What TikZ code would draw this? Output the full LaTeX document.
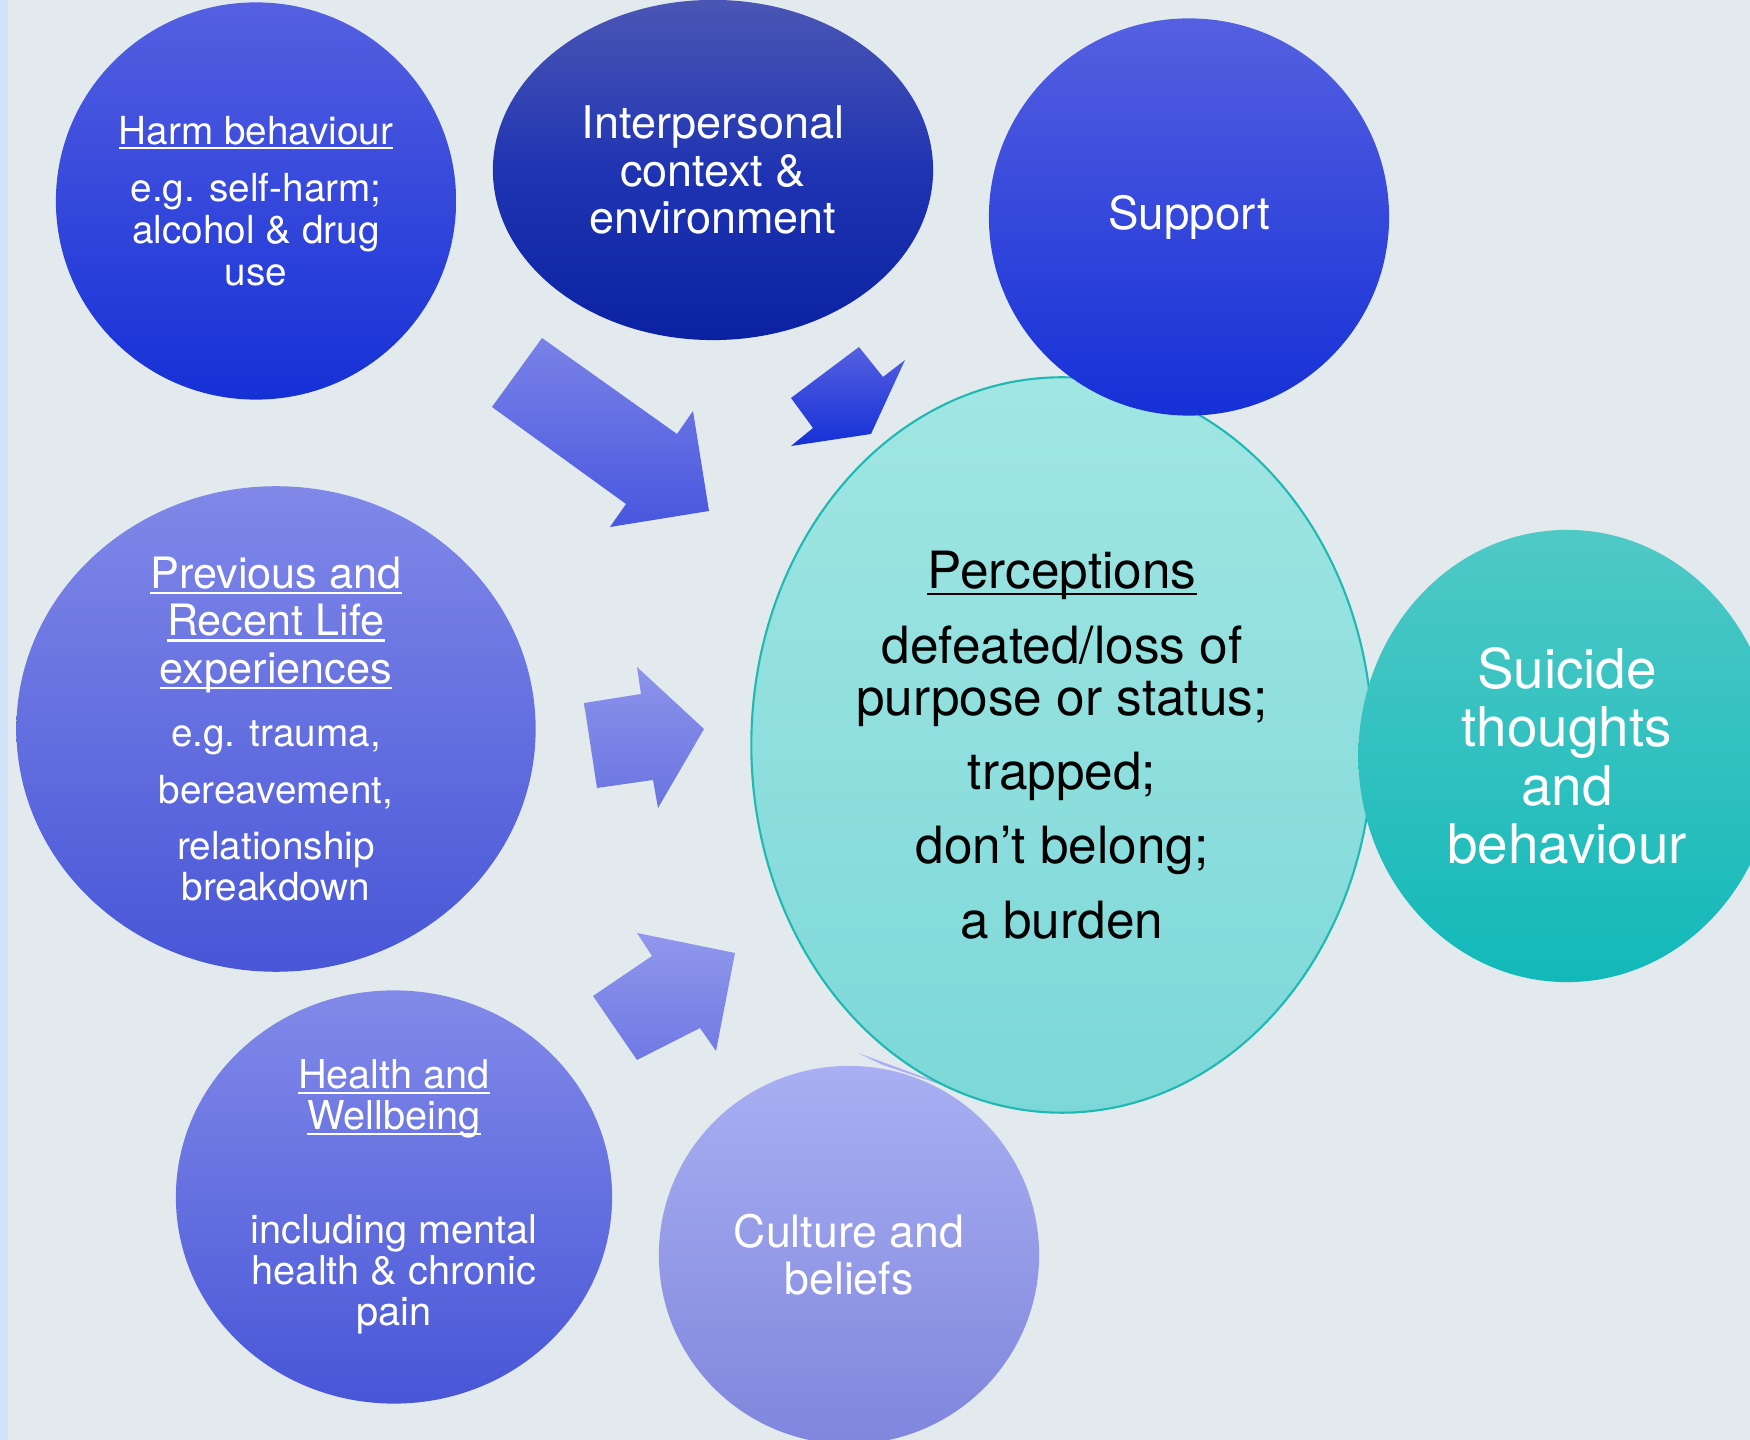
\documentclass[tikz,border=0pt]{standalone}
\usepackage{fontspec}
\setmainfont{TeX Gyre Heros}
\usetikzlibrary{shapes.geometric}

% colours
\definecolor{bgcol}{HTML}{E2EAEE}
\definecolor{stripcol}{HTML}{CFE4F8}
\definecolor{deeptop}{HTML}{5560E1}
\definecolor{deepbot}{HTML}{1530D6}
\definecolor{navytop}{HTML}{4B56B4}
\definecolor{navymid}{HTML}{1F34B2}
\definecolor{navybot}{HTML}{0A22A2}
\definecolor{midtop}{HTML}{8088E8}
\definecolor{midbot}{HTML}{4856D7}
\definecolor{paletop}{HTML}{A9AFF2}
\definecolor{palebot}{HTML}{7F86DC}
\definecolor{aquatop}{HTML}{A1E6E3}
\definecolor{aquabot}{HTML}{7CD8D8}
\definecolor{aqualine}{HTML}{1FB8B2}
\definecolor{tealtop}{HTML}{4FC9C6}
\definecolor{tealbot}{HTML}{12B9B9}

% underline at a fixed depth below the baseline
\newsavebox\ulbox
\newcommand\ulin[1]{\sbox\ulbox{#1}\rlap{\rule[-0.13em]{\wd\ulbox}{0.05em}}\usebox\ulbox}

\begin{document}
\begin{tikzpicture}[x=0.01cm, y=-0.01cm,
  bubble/.style={ellipse, inner sep=0pt, align=center, text=white},
  fsize/.style 2 args={font=\fontsize{#1}{#2}\selectfont}]
  % Background
  \fill[bgcol] (0,0) rectangle (1750,1440);
  \fill[stripcol] (0,0) rectangle (8,1440);
  \useasboundingbox (0,0) rectangle (1750,1440);

  % Block arrows pointing at the centre
  \shade[top color=midtop!85!deeptop, bottom color=deeptop!80!deepbot]
    (492,407) -- (542,338) -- (677,434) -- (693,411) -- (709,511) -- (610,527) -- (626,504) -- cycle;
  \shade[top color=deeptop, bottom color=deepbot]
    (791,398) -- (859,347) -- (883,377) -- (905,360) -- (871,434) -- (791,446) -- (813,428) -- cycle;
  \shade[top color=midtop!70!paletop, bottom color=midtop!60!midbot]
    (584,703) -- (641,694) -- (637,667) -- (704,729) -- (658,808) -- (653,780) -- (597,788) -- cycle;
  \shade[top color=midtop!60!paletop, bottom color=midtop!70!midbot]
    (593,996) -- (652,956) -- (637,933) -- (735,953) -- (716,1051) -- (700,1028) -- (637,1060) -- cycle;

  % Outer factors
  \node[bubble, minimum width=4cm, minimum height=3.97cm, top color=deeptop, bottom color=deepbot,
        fsize={11}{12}] (harm) at (256,201)
    {\ulin{Harm behaviour}\\[4.2pt] e.g. self-harm;\\ alcohol \& drug\\ use};
  \node[bubble, minimum width=4.4cm, minimum height=3.4cm, top color=navytop, bottom color=navybot,
        middle color=navymid, fsize={12.8}{13.4}] (inter) at (713,170)
    {Interpersonal\\ context \&\\ environment};
  \node[bubble, minimum width=5.19cm, minimum height=4.76cm, top color=midtop, bottom color=midbot,
        fsize={11}{11.4}] (life) at (276,729)
    {\fontsize{12.3}{13.4}\selectfont\ulin{Previous and}\\[2pt]
     \fontsize{12.3}{13.4}\selectfont\ulin{Recent Life}\\[2pt]
     \fontsize{12.3}{13.4}\selectfont\ulin{experiences}\\[6.5pt]
     e.g. trauma,\\[4.8pt] bereavement,\\[4.8pt] relationship\\ breakdown};
  \node[bubble, minimum width=4.36cm, minimum height=4.13cm, top color=midtop!95!paletop, bottom color=midbot,
        fsize={11.3}{11.7}] (health) at (394,1197)
    {\ulin{Health and}\\ \ulin{Wellbeing}\\[20.7pt] including mental\\ health \& chronic\\ pain};
  \node[bubble, minimum width=3.8cm, minimum height=3.78cm, top color=paletop, bottom color=palebot,
        fsize={12.7}{13.4}] (culture) at (849,1255)
    {Culture and\\ beliefs};
  \fill[paletop] (858,1053) -- (975,1096) -- (883,1065) -- cycle;

  % Centre
  \node[bubble, minimum width=6.21cm, minimum height=7.35cm, top color=aquatop, bottom color=aquabot,
        draw=aqualine, line width=0.6pt, text=black, fsize={14.6}{14.8}] (percep) at (1062,745)
    {\ulin{Perceptions}\\[6.5pt] defeated/loss of\\ purpose or status;\\[6.3pt] trapped;\\[6.3pt]
     don’t belong;\\[6.3pt] a burden};
  \node[bubble, minimum width=4cm, minimum height=3.97cm, top color=deeptop, bottom color=deepbot,
        fsize={13}{14}] (support) at (1189,217) {Support};
  \node[bubble, minimum width=4.17cm, minimum height=4.52cm, top color=tealtop, bottom color=tealbot,
        fsize={15.6}{16.6}] (suicide) at (1567,756)
    {Suicide\\ thoughts\\ and\\ behaviour};
\end{tikzpicture}
\end{document}
